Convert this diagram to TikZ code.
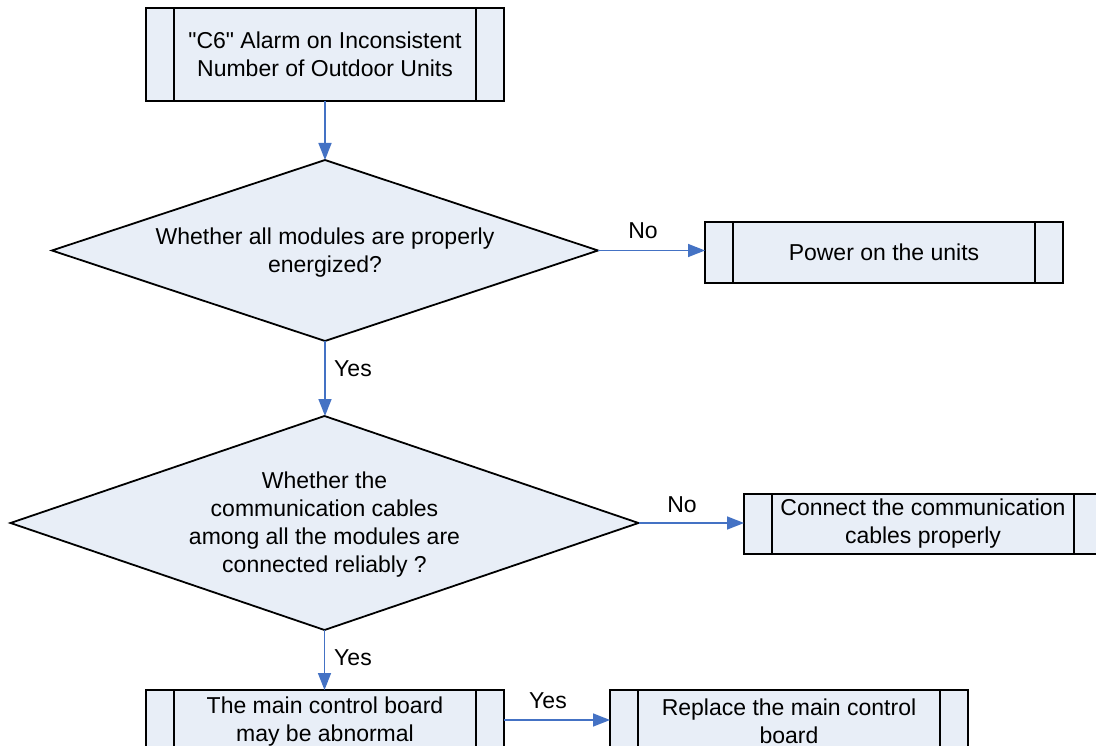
\documentclass[tikz,border=0pt]{standalone}
\usepackage{fontspec}
\setmainfont{Liberation Sans}[Ligatures=TeXOff]
\usetikzlibrary{shapes.geometric,arrows.meta}
\definecolor{boxfill}{HTML}{E8EEF7}
\definecolor{arrowblue}{HTML}{4472C4}
\begin{document}
\begin{tikzpicture}[x=1pt,y=-1pt,
  font=\fontsize{23}{28}\selectfont,
  subproc/.style={draw=black,line width=1.8pt,fill=boxfill,minimum width=358pt,inner sep=0pt,outer sep=0pt,align=center},
  decision/.style={draw=black,line width=1.8pt,fill=boxfill,shape=diamond,inner sep=0pt,outer sep=0pt},
  flow/.style={draw=arrowblue,line width=1.6pt,-{Triangle[length=17pt,width=13pt]}},
  lbl/.style={inner sep=0pt,align=center}]
\clip (0,0) rectangle (1096,746);
\fill[white] (0,0) rectangle (1096,746);
% boxes
\node[subproc,minimum height=93pt] (b1) at (325,54.5) {"C6" Alarm on Inconsistent\\Number of Outdoor Units};
\node[subproc,minimum height=61pt] (b2) at (884,252.5) {Power on the units};
\node[subproc,minimum height=60pt] (b3) at (923,524) {Connect the communication\\cables properly};
\node[subproc,minimum height=63pt] (b4) at (325,721.5) {The main control board\\may be abnormal};
\node[subproc,minimum height=63pt] (b5) at (789,721.5) {Replace the main control\\board};
\foreach \n in {b1,b2,b3,b4,b5}{
  \draw[line width=1.8pt] ([xshift=28pt]\n.north west) -- ([xshift=28pt]\n.south west);
  \draw[line width=1.8pt] ([xshift=-28pt]\n.north east) -- ([xshift=-28pt]\n.south east);
}
% decisions
\node[decision,minimum width=546pt,minimum height=181pt] (d1) at (325,250.5) {};
\node[lbl] (t1) at (325,253) {Whether all modules are properly\\energized?};
\node[decision,minimum width=628pt,minimum height=214pt] (d2) at (324.5,523) {};
\node[lbl] (t2) at (324.5,525) {Whether the\\communication cables\\among all the modules are\\connected reliably ?};
% connectors
\draw[flow] (b1.south) -- (b1.south |- d1.north);
\draw[flow] (d1.east) -- (b2.west |- d1.east);
\draw[flow] (d1.south) -- (d1.south |- d2.north);
\draw[flow] (d2.east) -- (b3.west |- d2.east);
\draw[flow] (d2.south) -- (d2.south |- b4.north);
\draw[flow] (b4.east |- 0,720) -- (b5.west |- 0,720);
% labels
\node[lbl] (l1) at (643,231) {No};
\node[lbl] (l2) at (353,369) {Yes};
\node[lbl] (l3) at (682,505) {No};
\node[lbl] (l4) at (353,658) {Yes};
\node[lbl] (l5) at (548,701) {Yes};
\end{tikzpicture}
\end{document}
